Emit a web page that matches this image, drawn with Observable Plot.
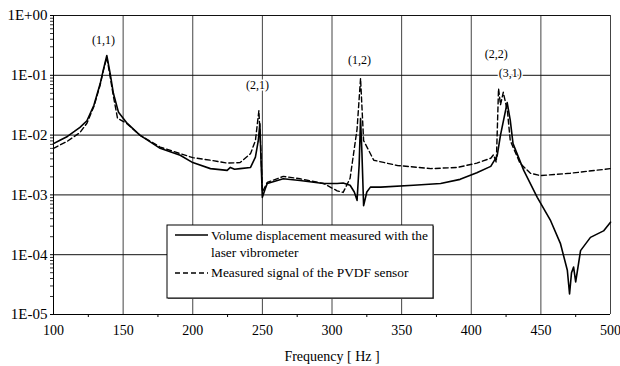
<!DOCTYPE html>
<html>
<head>
<meta charset="utf-8">
<script src="https://cdn.jsdelivr.net/npm/d3@7"></script>
<script src="https://cdn.jsdelivr.net/npm/@observablehq/plot@0.6"></script>
<style>
  html, body { margin: 0; padding: 0; background: white; }
  #chart { position: relative; width: 620px; height: 366px; }
</style>
</head>
<body>
<div id="chart"></div>
<script>
// ---------- data ----------
const freqSolid = [100,105,110,115,119,124,129,133.5,136,138.3,140.7,143,146.7,152.4,162,176.6,191,200,212.7,224.7,227,230,234,241.5,245,247,248.2,249,250,252,253.5,265,277,294,303.7,308,313,316,318,319.5,320.5,321.5,322.7,325,327.6,335,358.5,378,392,404,414,418.6,421,425.8,428,430,437.7,447.4,457,464,469,470.6,472,473.5,475,478.5,485.6,495,500];
const laserVibrometer = [7.2e-3,8.3e-3,9.5e-3,1.15e-2,1.35e-2,1.74e-2,3.16e-2,7.2e-2,0.129,0.214,0.107,0.050,0.024,0.0162,0.0100,0.0060,0.0046,0.00347,0.00275,0.00257,0.00288,0.00269,0.00275,0.00288,0.00427,0.0079,0.0155,0.0040,0.00091,0.00126,0.00155,0.00186,0.00174,0.00155,0.00155,0.00158,0.00145,0.00112,0.00081,0.0032,0.019,0.0050,0.00066,0.00112,0.00135,0.00135,0.00145,0.00155,0.00182,0.00234,0.0030,0.0045,0.010,0.035,0.0178,0.0072,0.00257,0.00091,0.00037,0.000155,5.5e-5,2.2e-5,5.0e-5,6.2e-5,3.5e-5,1.17e-4,1.95e-4,2.5e-4,3.5e-4];

const freqDashed = [100,105,110,115,119,124,129,133.5,136,138.3,140.5,143,146,148,152.4,162,176.6,191,200,212.7,224.7,234,241.5,245,247.5,249,250,253.5,265,277,294,303.7,308,313,315.5,318,320.5,322.7,330,347,371,390,404,414,416,418,419.6,421,423,426,428,435,442.5,449.7,471,500];
const pvdfSensor = [0.0060,0.0069,0.0079,0.0095,0.0110,0.0158,0.030,0.069,0.126,0.20,0.10,0.045,0.019,0.018,0.0158,0.0100,0.0063,0.0049,0.0042,0.0038,0.0034,0.00347,0.0049,0.0081,0.0257,0.0050,0.00112,0.00162,0.00204,0.00186,0.00155,0.00117,0.0011,0.0019,0.0049,0.0126,0.089,0.0081,0.0038,0.0031,0.00275,0.00288,0.0034,0.0041,0.0047,0.0035,0.060,0.032,0.052,0.025,0.0081,0.0034,0.0023,0.0021,0.0023,0.00275];

const seriesNames = [["Volume displacement measured with the", "laser vibrometer"], ["Measured signal of the PVDF sensor"]];

const modeLabels = ["(1,1)", "(2,1)", "(1,2)", "(2,2)", "(3,1)"];
const modeFreq   = [135.9, 246.5, 319.7, 418, 428];
const modeValue  = [0.38, 0.068, 0.178, 0.23, 0.107];

const xTicks = [100,150,200,250,300,350,400,450,500];
const xMinor = [125,175,225,275,325,375,425,475];
const yTicks = [1e-5,1e-4,1e-3,1e-2,1e-1,1];
const yMinor = [];
for (let e = -5; e < 0; e++) for (let m = 2; m <= 9; m++) yMinor.push(m * Math.pow(10, e));

const xLabel = "Frequency [ Hz ]";

// ---------- build ----------
const solid = freqSolid.map((f, i) => ({f, v: laserVibrometer[i]}));
const dashed = freqDashed.map((f, i) => ({f, v: pvdfSensor[i]}));
const modes = modeLabels.map((t, i) => ({t, f: modeFreq[i], v: modeValue[i]}));

const fmtE = d => {
  const e = Math.round(Math.log10(d));
  const a = Math.abs(e);
  return "1E" + (e >= 0 ? "+" : "-") + (a < 10 ? "0" : "") + a;
};

const font = "'Liberation Serif', 'Times New Roman', serif";

const chart = Plot.plot({
  width: 620,
  height: 366,
  marginLeft: 53,
  marginRight: 10,
  marginTop: 15,
  marginBottom: 52,
  style: {fontFamily: font, fontSize: "14px", background: "white", color: "black"},
  x: {domain: [100, 500]},
  y: {type: "log", domain: [1e-5, 1]},
  marks: [
    Plot.ruleX(xTicks, {stroke: "#444", strokeWidth: 1}),
    Plot.ruleY(yTicks, {stroke: "#111", strokeWidth: 1}),
    Plot.ruleX([100], {stroke: "black", strokeWidth: 1}),
    Plot.ruleY([1e-5], {stroke: "black", strokeWidth: 1}),
    Plot.axisY({ticks: yMinor, tickSize: 3, tickFormat: () => "", label: null, stroke: "#333"}),
    Plot.axisY({ticks: yTicks, tickSize: 3, tickPadding: 3, tickFormat: fmtE, label: null, fontSize: 15}),
    Plot.axisX({ticks: xMinor, tickSize: 3, tickFormat: () => "", label: null}),
    Plot.axisX({ticks: xTicks, tickSize: 0, tickPadding: 11, tickFormat: d => String(d), fontSize: 14,
      label: xLabel, labelAnchor: "center", labelArrow: "none", labelOffset: 46}),
    Plot.line(dashed, {x: "f", y: "v", stroke: "black", strokeWidth: 1.4, strokeDasharray: "5,3"}),
    Plot.line(solid, {x: "f", y: "v", stroke: "black", strokeWidth: 1.6}),
    Plot.text(modes, {x: "f", y: "v", text: "t", fontSize: 12, fill: "black",
      stroke: "white", strokeWidth: 3, textAnchor: "middle", lineAnchor: "middle"})
  ]
});

document.getElementById("chart").appendChild(chart);

// ---------- legend ----------
const svg = d3.select(chart);
const lg = svg.append("g").attr("font-family", font).attr("font-size", 13.4).attr("text-anchor", "start");
lg.append("rect").attr("x", 168).attr("y", 226).attr("width", 266).attr("height", 73).attr("fill", "#777");
lg.append("rect").attr("x", 167).attr("y", 225).attr("width", 266).attr("height", 73)
  .attr("fill", "white").attr("stroke", "black").attr("stroke-width", 1);
lg.append("line").attr("x1", 175).attr("x2", 208).attr("y1", 235).attr("y2", 235)
  .attr("stroke", "black").attr("stroke-width", 1.5);
lg.append("line").attr("x1", 175).attr("x2", 208).attr("y1", 273).attr("y2", 273)
  .attr("stroke", "black").attr("stroke-width", 1.3).attr("stroke-dasharray", "5,3");
const t1 = lg.append("text").attr("x", 211).attr("y", 240).attr("fill", "black").attr("text-anchor", "start");
t1.append("tspan").attr("x", 211).attr("y", 240).text(seriesNames[0][0]);
t1.append("tspan").attr("x", 211).attr("y", 257).text(seriesNames[0][1]);
lg.append("text").attr("x", 211).attr("y", 277).attr("fill", "black").attr("text-anchor", "start").text(seriesNames[1][0]);
</script>
</body>
</html>
